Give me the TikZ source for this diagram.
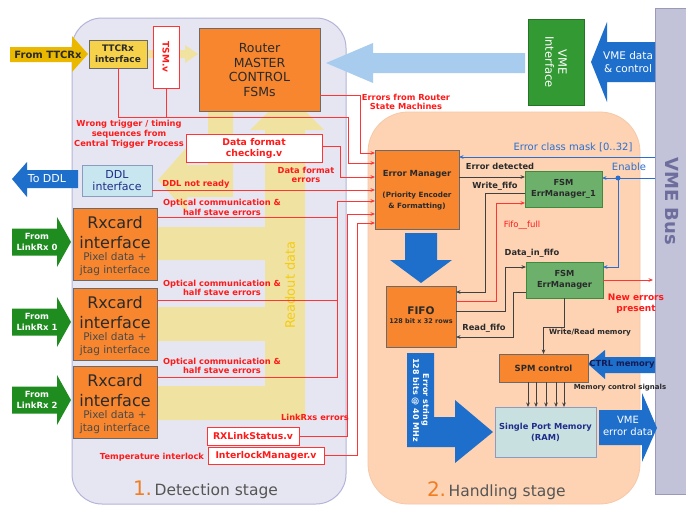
\documentclass[tikz,border=0pt]{standalone}
\usepackage{fontspec}
\setmainfont{DejaVu Sans}
\usetikzlibrary{arrows.meta}
\definecolor{detfill}{HTML}{E6E6F2}
\definecolor{detdraw}{HTML}{B4B4D8}
\definecolor{hanfill}{HTML}{FDD3B4}
\definecolor{handraw}{HTML}{F6C8A6}
\definecolor{busfill}{HTML}{C2C2D8}
\definecolor{busdraw}{HTML}{9A9AB8}
\definecolor{orangebox}{HTML}{F7862E}
\definecolor{boxedge}{HTML}{6A6A6A}
\definecolor{redline}{HTML}{FF3434}
\definecolor{redtext}{HTML}{FF1A1A}
\definecolor{bluearrow}{HTML}{1E6FCC}
\definecolor{lightblue}{HTML}{A8CCEE}
\definecolor{greenarrow}{HTML}{1E8C1E}
\definecolor{vmegreen}{HTML}{339933}
\definecolor{vmegreendraw}{HTML}{267326}
\definecolor{fsmgreen}{HTML}{6CB06C}
\definecolor{fsmdraw}{HTML}{3F8A3F}
\definecolor{ttcgold}{HTML}{EBB800}
\definecolor{ttcbox}{HTML}{F6D24A}
\definecolor{ddlfill}{HTML}{C8E6F0}
\definecolor{ddldraw}{HTML}{8C9CC0}
\definecolor{ramfill}{HTML}{C9E0E0}
\definecolor{ramdraw}{HTML}{8C9CC0}
\definecolor{readout}{HTML}{F0E2A0}
\definecolor{readtext}{HTML}{F5CC10}
\definecolor{stagenum}{HTML}{F07D22}
\definecolor{darktext}{HTML}{2A2A2A}
\definecolor{lineblack}{HTML}{404040}
\definecolor{navytext}{HTML}{1F2D8A}
\definecolor{enableblue}{HTML}{2A6FD0}
\definecolor{bustext}{HTML}{6E6E9E}
\newcommand{\myfs}[2]{\fontsize{#1}{#2}\selectfont}
\begin{document}
\begin{tikzpicture}[x=1pt,y=-1pt,
  every node/.style={inner sep=0pt, outer sep=0pt},
  obox/.style={draw=boxedge, fill=orangebox, line width=0.9pt, align=center, text=darktext},
  wbox/.style={draw=redline, fill=white, line width=0.9pt, align=center, text=redtext, font=\bfseries\myfs{9.3}{11}},
  gbox/.style={draw=fsmdraw, fill=fsmgreen, line width=0.9pt, align=center, text=darktext, font=\bfseries\myfs{8.3}{10.5}},
  rlab/.style={text=redtext, align=center, font=\bfseries\myfs{8.3}{9.8}},
  dlab/.style={text=darktext, align=center, font=\bfseries\myfs{8.3}{9.8}},
  blab/.style={text=enableblue, font=\myfs{10}{12}},
  wlab/.style={text=white, align=center},
  rl/.style={draw=redline, line width=0.9pt},
  rla/.style={rl, -{Stealth[length=4.5pt,width=3.6pt]}},
  dl/.style={draw=lineblack, line width=0.8pt},
  dla/.style={dl, -{Stealth[length=4.5pt,width=3.6pt]}},
  bl/.style={draw=enableblue, line width=1pt},
  bla/.style={bl, -{Stealth[length=4.5pt,width=3.6pt]}}
]
\useasboundingbox (0,0) rectangle (686,506);
\fill[white] (0,0) rectangle (686,506);

% stage regions and bus
\node[draw=detdraw, fill=detfill, line width=1pt, rounded corners=30pt, minimum width=274pt, minimum height=486pt] (det) at (209,261) {};
\node[draw=handraw, fill=hanfill, line width=0.8pt, rounded corners=40pt, minimum width=272pt, minimum height=392pt] (han) at (504,308) {};
\node[draw=busdraw, fill=busfill, line width=0.8pt, minimum width=36pt, minimum height=486pt] (vmebus) at (673,251) {};
\node[rotate=-90, text=bustext, font=\bfseries\myfs{18}{20}] (bustitle) at (672,201) {VME Bus};

% readout data paths (faded yellow)
\fill[readout] (157,227) -- (265,227) -- (265,130) -- (250,130) -- (287,93) -- (324,130) -- (305,130) -- (305,420) -- (157,420) -- (157,386) -- (265,386) -- (265,341) -- (157,341) -- (157,307) -- (265,307) -- (265,260) -- (157,260) -- cycle;
\fill[readout] (208,112) -- (233,112) -- (233,197) -- (187,197) -- (187,213) -- (158,180) -- (187,147) -- (187,165) -- (208,165) -- cycle;
\fill[readout] (147,50) -- (185,50) -- (185,45) -- (198,54) -- (185,63) -- (185,58) -- (147,58) -- cycle;
\node[rotate=90, text=readtext, font=\myfs{13}{15}] (readlab) at (290,285) {Readout data};

% big arrows
\fill[ttcgold] (10,47) -- (72,47) -- (72,36) -- (88,54) -- (72,72) -- (72,62) -- (10,62) -- cycle;
\node[text=darktext, font=\bfseries\myfs{10}{12}] (fromttc) at (48,55) {From TTCRx};
\fill[bluearrow] (12,179) -- (27,162) -- (27,170) -- (78,170) -- (78,188) -- (27,188) -- (27,197) -- cycle;
\node[wlab, font=\myfs{11}{13}] (toddl) at (47,179) {To DDL};
\foreach \c/\k in {242/0,322/1,400/2}{
  \fill[greenarrow] (12,\c-13.5) -- (57,\c-13.5) -- (57,\c-25) -- (71,\c) -- (57,\c+25) -- (57,\c+13.5) -- (12,\c+13.5) -- cycle;
  \node[wlab, font=\bfseries\myfs{8.5}{10.5}] (link\k) at (37,\c) {From\\LinkRx \k};
}
\fill[lightblue] (525,53) -- (373,53) -- (373,43) -- (326,63) -- (373,83) -- (373,73) -- (525,73) -- cycle;
\fill[bluearrow] (655,42) -- (607,42) -- (607,22) -- (591,62) -- (607,102) -- (607,82) -- (655,82) -- cycle;
\node[wlab, font=\myfs{10.5}{12.5}] (vmedata) at (628,62) {VME data\\\& control};
\fill[bluearrow] (405,233) -- (437,233) -- (437,260) -- (452,260) -- (421,283) -- (390,260) -- (405,260) -- cycle;
\fill[bluearrow] (407,353) -- (434,353) -- (434,417) -- (455,417) -- (455,400) -- (493,432) -- (455,463) -- (455,447) -- (407,447) -- cycle;
\node[rotate=-90, wlab, font=\bfseries\myfs{8}{10}] (errstr) at (420.5,400) {Error string\\128 bits @ 40 MHz};
\fill[bluearrow] (655,357) -- (605,357) -- (605,350) -- (588,364) -- (605,379) -- (605,373) -- (655,373) -- cycle;
\fill[bluearrow] (599,410) -- (642,410) -- (642,393) -- (657,428) -- (642,462) -- (642,445) -- (599,445) -- cycle;
\node[wlab, font=\myfs{10}{11.5}] (vmeerr) at (628,426) {VME\\error data};

% boxes
\node[draw=boxedge, fill=ttcbox, line width=0.9pt, minimum width=58pt, minimum height=28pt, align=center, text=darktext, font=\bfseries\myfs{9}{11}] (ttcrx) at (118,54) {TTCRx\\interface};
\node[draw=redline, fill=white, line width=0.9pt, minimum width=26pt, minimum height=62pt] (tsm) at (166,57) {};
\node[rotate=-90, text=redtext, font=\bfseries\myfs{9}{11}] (tsmlab) at (166,57) {TSM.v};
\node[obox, minimum width=121pt, minimum height=83pt, font=\myfs{12.5}{14.5}] (router) at (259.5,70) {Router\\MASTER\\CONTROL\\FSMs};
\node[draw=vmegreendraw, fill=vmegreen, line width=0.8pt, minimum width=56pt, minimum height=86pt] (vmeif) at (556,62) {};
\node[rotate=-90, wlab, font=\myfs{11.5}{13}] (vmeiflab) at (556,62) {VME\\Interface};
\node[wbox, minimum width=136pt, minimum height=28pt] (dfc) at (254,148) {Data format\\checking.v};
\node[draw=ddldraw, fill=ddlfill, line width=0.9pt, minimum width=70pt, minimum height=31pt, align=center, text=navytext, font=\myfs{11}{12.5}] (ddl) at (117,180.5) {DDL\\interface};
\foreach \c/\k in {244/0,324/1,402/2}{
  \node[obox, minimum width=84pt, minimum height=72pt] (rx\k) at (115,\c) {};
  \node[text=darktext, align=center, font=\myfs{16}{20}] (rxa\k) at (115,\c-11) {Rxcard\\interface};
  \node[text=darktext!85, align=center, font=\myfs{10.5}{13}] (rxb\k) at (115,\c+20.5) {Pixel data +\\jtag interface};
}
\node[wbox, minimum width=92pt, minimum height=18pt] (rxls) at (253,436) {RXLinkStatus.v};
\node[wbox, minimum width=116pt, minimum height=17pt] (ilm) at (266,455.5) {InterlockManager.v};

\node[obox, minimum width=84pt, minimum height=79pt] (em) at (417,189.5) {};
\node[text=darktext, font=\bfseries\myfs{8.4}{10}] (emt) at (417,174) {Error Manager};
\node[text=darktext, align=center, font=\bfseries\myfs{7.2}{11}] (ems) at (417,201.5) {(Priority Encoder\\\& Formatting)};
\node[obox, minimum width=70pt, minimum height=61pt] (fifo) at (421,316.5) {};
\node[text=darktext, font=\bfseries\myfs{10.5}{12}] (fifot) at (421,311) {FIFO};
\node[text=darktext, font=\bfseries\myfs{6.5}{8}] (fifos) at (421,321.5) {128 bit x 32 rows};
\node[gbox, minimum width=77pt, minimum height=36pt] (fsm1) at (563.5,189) {FSM\\ErrManager\_1};
\node[gbox, minimum width=77pt, minimum height=36pt] (fsm) at (564.5,280) {FSM\\ErrManager};
\node[obox, minimum width=89pt, minimum height=28pt, font=\bfseries\myfs{8.5}{10}] (spm) at (543.5,368) {SPM control};
\node[draw=ramdraw, fill=ramfill, line width=0.9pt, minimum width=101pt, minimum height=50pt, align=center, text=navytext, font=\bfseries\myfs{8.3}{11}] (ram) at (545.5,432) {Single Port Memory\\(RAM)};
\node[text=navytext!60!black, font=\bfseries\myfs{8.4}{10}] (ctrlmem) at (622,364) {CTRL memory};

% red error lines into Error Manager
\draw[rla] (router.east |- 0,95) -- (360,95) -- (360,153) -- (em.west |- 0,153);
\draw[rla] (ttcrx.south) -- (ttcrx.south |- 0,117) -- (348,117) -- (348,163) -- (em.west |- 0,163);
\draw[rl] (tsm.south) -- (tsm.south |- 0,117);
\draw[rla] (dfc.east |- 0,146) -- (340,146) -- (340,177) -- (em.west |- 0,177);
\draw[rla] (ddl.east |- 0,190) -- (em.west |- 0,190);
\draw[rla] (rx0.east |- 0,217) -- (337,217) -- (337,201) -- (em.west |- 0,201);
\draw[rl] (rx1.east |- 0,300) -- (337,300);
\draw[rl] (rx2.east |- 0,377) -- (337,377) -- (337,217);
\draw[rla] (rxls.east) -- (347,436) -- (347,214) -- (em.west |- 0,214);
\draw[rla] (ilm.east) -- (357,455.5) -- (357,223) -- (em.west |- 0,223);

% handling stage connections
\draw[dla] (em.east |- 0,177) -- (fsm1.west |- 0,177);
\draw[dla] (fsm1.west |- 0,193) -- (485,193) -- (485,292) -- (fifo.east |- 0,292);
\draw[rla] (fifo.east |- 0,301) -- (496,301) -- (496,203) -- (fsm1.west |- 0,203);
\draw[dla] (fifo.east |- 0,311) -- (505,311) -- (505,267) -- (fsm.west |- 0,267);
\draw[dla] (fsm.west |- 0,292) -- (513,292) -- (513,337) -- (fifo.east |- 0,337);
\draw[dla] (fsm.south) -- (fsm.south |- 0,327) -- (spm.north |- 0,327) -- (spm.north);
\foreach \x in {528,536,546,556,564}{
  \draw[dla] (spm.south -| \x,0) -- (ram.north -| \x,0);
}
\coordinate (newerr) at (653,280);
\draw[rla] (fsm.east) -- (newerr);
\draw[bla] (vmebus.west |- 0,157) -- (em.east |- 0,157);
\coordinate (en) at (618,178);
\draw[bl] (vmebus.west |- 0,178) -- (en);
\draw[bla] (en) -- (fsm1.east |- 0,178);
\draw[bla] (en) |- (fsm.east |- 0,267);
\fill[enableblue] (en) circle (2.5pt);

% labels
\node[rlab] (lwrong) at (129,134) {Wrong trigger / timing\\sequences from\\Central Trigger Process};
\node[rlab] (lrouter) at (406,102) {Errors from Router\\State Machines};
\node[rlab] (ldfe) at (306,175) {Data format\\errors};
\node[rlab] (lddl) at (196,184) {DDL not ready};
\node[rlab] (lopt0) at (222,207.5) {Optical communication \&\\half stave errors};
\node[rlab] (lopt1) at (222,288) {Optical communication \&\\half stave errors};
\node[rlab] (lopt2) at (222,366) {Optical communication \&\\half stave errors};
\node[rlab] (llink) at (315,417) {LinkRxs errors};
\node[rlab] (ltemp) at (152,457) {Temperature interlock};
\node[dlab] (lerrdet) at (500,166) {Error detected};
\node[dlab] (lwf) at (495,186) {Write\_fifo};
\node[text=redtext, font=\myfs{8.5}{10}] (lff) at (522,225) {Fifo\_\_full};
\node[dlab] (ldif) at (532,253) {Data\_in\_fifo};
\node[dlab] (lrf) at (484,328) {Read\_fifo};
\node[dlab, font=\bfseries\myfs{7.3}{9}] (lwr) at (590,333) {Write/Read memory};
\node[dlab, font=\bfseries\myfs{7}{9}] (lmcs) at (620,388) {Memory control signals};
\node[rlab, font=\bfseries\myfs{9}{11}] (lnew) at (636,304) {New errors\\present};
\node[blab] (lmask) at (573,147) {Error class mask [0..32]};
\node[blab] (lenable) at (629,167) {Enable};
\node[anchor=base west, text=darktext!80, font=\myfs{15.5}{18}] (st1) at (133,495) {\textcolor{stagenum}{\myfs{20}{22}1.}\,Detection stage};
\node[anchor=base west, text=darktext!80, font=\myfs{15.5}{18}] (st2) at (427,496) {\textcolor{stagenum}{\myfs{20}{22}2.}\,Handling stage};
\end{tikzpicture}
\end{document}
